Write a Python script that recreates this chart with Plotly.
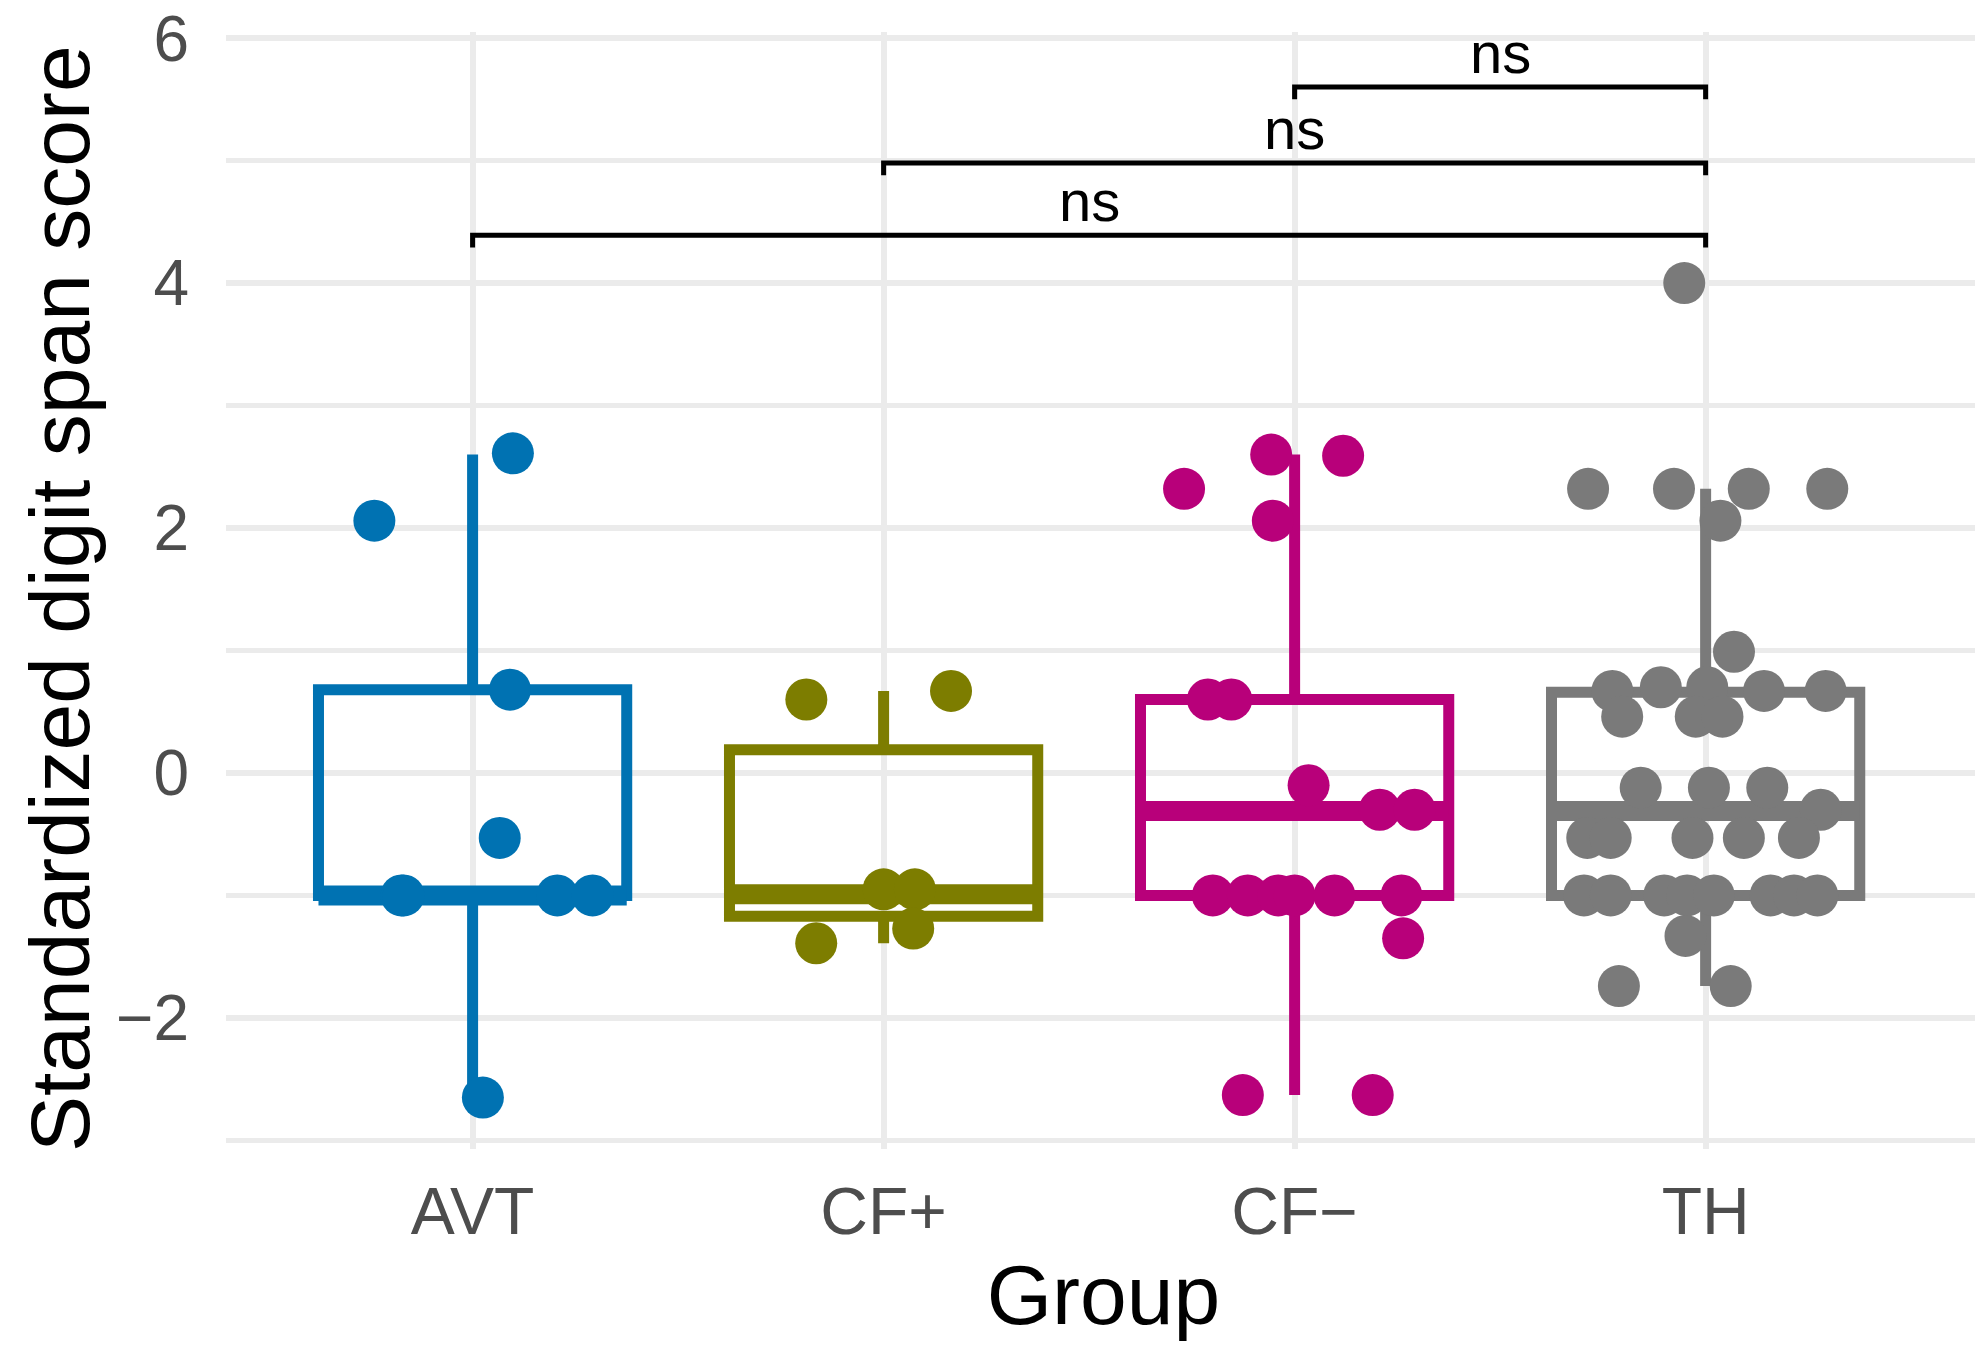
import plotly.graph_objects as go

# ---------------- data ----------------
groups = ["AVT", "CF+", "CF−", "TH"]
colors = ["#0072B2", "#7D7D00", "#B8007A", "#7A7A7A"]

# box statistics (lower whisker, Q1, median, Q3, upper whisker)
box_lower = [-2.65, -1.39, -2.63, -1.74]
box_q1 = [-1.00, -1.17, -1.00, -1.00]
box_median = [-1.00, -0.99, -0.31, -0.31]
box_q3 = [0.68, 0.19, 0.60, 0.66]
box_upper = [2.60, 0.67, 2.60, 2.32]

# individual (jittered) observations: value and horizontal jitter
avt_values = [2.61, 2.06, 0.68, -0.53, -1.0, -1.0, -1.0, -1.0, -2.65]
avt_jitter = [0.098, -0.239, 0.091, 0.066, -0.173, 0.206, 0.292, -0.168, 0.025]

cfp_values = [0.60, 0.67, -0.95, -0.95, -1.27, -1.39]
cfp_jitter = [-0.188, 0.164, 0.0, 0.076, 0.072, -0.164]

cfm_values = [2.32, 2.60, 2.59, 2.06, 0.60, 0.60, -0.10, -0.30, -0.30,
              -1.0, -1.0, -1.0, -1.0, -1.0, -1.0, -1.35, -2.63, -2.63]
cfm_jitter = [-0.269, -0.057, 0.118, -0.053, -0.211, -0.154, 0.034, 0.207, 0.292,
              -0.199, -0.114, -0.040, 0.0, 0.097, 0.260, 0.264, -0.126, 0.190]

th_values = [4.0, 2.32, 2.32, 2.32, 2.32, 2.06, 0.99,
             0.67, 0.70, 0.70, 0.67, 0.67, 0.46, 0.46, 0.46,
             -0.12, -0.12, -0.12, -0.30,
             -0.53, -0.53, -0.53, -0.53, -0.53,
             -1.0, -1.0, -1.0, -1.0, -1.0, -1.0, -1.0, -1.0,
             -1.33, -1.74, -1.74]
th_jitter = [-0.052, -0.286, -0.077, 0.105, 0.296, 0.036, 0.069,
             -0.227, -0.109, 0.004, 0.142, 0.292, -0.203, -0.024, 0.041,
             -0.158, 0.008, 0.150, 0.280,
             -0.288, -0.231, -0.032, 0.093, 0.227,
             -0.296, -0.231, -0.101, -0.045, 0.020, 0.158, 0.215, 0.272,
             -0.049, -0.211, 0.061]

point_values = [avt_values, cfp_values, cfm_values, th_values]
point_jitter = [avt_jitter, cfp_jitter, cfm_jitter, th_jitter]

# significance brackets: (from group, to group, height, label)
sig_from = [0, 1, 2]
sig_to = [3, 3, 3]
sig_y = [4.39, 4.98, 5.60]
sig_label = ["ns", "ns", "ns"]

# y axis ticks
y_ticks = [-2, 0, 2, 4, 6]
y_ticktext = ["−2", "0", "2", "4", "6"]

x_title = "Group"
y_title = "Standardized digit span score"

# ---------------- styling ----------------
FONT = "Liberation Sans, Arial, Helvetica, sans-serif"
BOX_WIDTH = 0.75
LINE_W = 11
MEDIAN_W = 20
POINT_SIZE = 42
TIP = 0.1
GRID = "#EBEBEB"
M_L, M_R, M_T, M_B = 218, 10, 24, 216
W, H = 1983, 1357

fig = go.Figure()

for i, g in enumerate(groups):
    fig.add_trace(go.Box(
        x=[i], q1=[box_q1[i]], median=[box_median[i]], q3=[box_q3[i]],
        lowerfence=[box_lower[i]], upperfence=[box_upper[i]],
        width=BOX_WIDTH, whiskerwidth=0,
        fillcolor="rgba(255,255,255,0)",
        line=dict(color=colors[i], width=LINE_W),
        boxpoints=False, hoverinfo="skip", showlegend=False, name=g,
    ))
    # thick median (ggplot fatten)
    fig.add_trace(go.Scatter(
        x=[i - BOX_WIDTH / 2, i + BOX_WIDTH / 2],
        y=[box_median[i], box_median[i]],
        mode="lines", line=dict(color=colors[i], width=MEDIAN_W),
        hoverinfo="skip", showlegend=False,
    ))

for i, g in enumerate(groups):
    fig.add_trace(go.Scatter(
        x=[i + j for j in point_jitter[i]], y=point_values[i],
        mode="markers",
        marker=dict(color=colors[i], size=POINT_SIZE, line=dict(width=0)),
        hoverinfo="skip", showlegend=False, name=g,
    ))

for a, b, y, lab in zip(sig_from, sig_to, sig_y, sig_label):
    fig.add_trace(go.Scatter(
        x=[a, a, b, b], y=[y - TIP, y, y, y - TIP],
        mode="lines", line=dict(color="black", width=5),
        hoverinfo="skip", showlegend=False,
    ))
    fig.add_annotation(
        x=(a + b) / 2, y=y, text=lab, showarrow=False,
        xanchor="center", yanchor="bottom", yshift=0,
        font=dict(family=FONT, size=58, color="black"),
    )

# y-axis title as a rotated annotation (precise placement)
plot_w = W - M_L - M_R
plot_h = H - M_T - M_B
fig.add_annotation(
    xref="paper", yref="paper",
    x=(52 - M_L) / plot_w, y=1 - (591 - M_T) / plot_h,
    text=y_title, textangle=-90, showarrow=False,
    xanchor="center", yanchor="middle",
    font=dict(family=FONT, size=84, color="black"),
)

fig.update_layout(
    width=W, height=H,
    margin=dict(l=M_L, r=M_R, t=M_T, b=M_B),
    paper_bgcolor="white", plot_bgcolor="white",
    showlegend=False,
    font=dict(family=FONT),
)

fig.update_xaxes(
    range=[-0.6, 3.67], tickmode="array", tickvals=list(range(len(groups))),
    ticktext=groups, showgrid=True, gridcolor=GRID, gridwidth=6,
    zeroline=False, showline=False, ticks="", automargin=False,
    tickfont=dict(family=FONT, size=66, color="#4D4D4D"),
    ticklabelstandoff=18,
    title=dict(text=x_title, font=dict(family=FONT, size=84, color="black"), standoff=18),
)

fig.update_yaxes(
    range=[-3.07, 6.05], tickmode="array", tickvals=y_ticks, ticktext=y_ticktext,
    showgrid=True, gridcolor=GRID, gridwidth=6,
    minor=dict(tickmode="array", tickvals=[-3, -1, 1, 3, 5], showgrid=True,
               gridcolor=GRID, gridwidth=4.5),
    zeroline=False, showline=False, ticks="", automargin=False,
    tickfont=dict(family=FONT, size=64, color="#4D4D4D"),
    ticklabelstandoff=36, ticklabeloverflow="allow",
)

fig.write_html("out.html")
